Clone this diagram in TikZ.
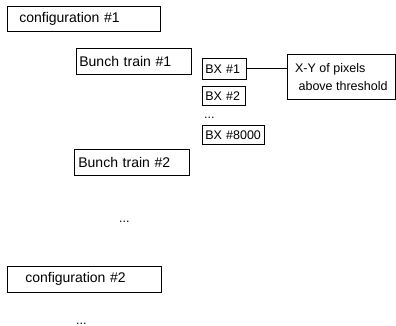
\documentclass[tikz,border=0pt]{standalone}
\usepackage{fontspec}
\setmainfont{Liberation Sans}
\usetikzlibrary{positioning}
\tikzset{
  box/.style={draw, line width=0.7pt, anchor=north west, align=left, inner ysep=0pt},
  big/.style={font=\fontsize{14}{16}\selectfont},
  small/.style={font=\fontsize{12.5}{18}\selectfont},
  dots/.style={anchor=base west, inner sep=0pt, font=\fontsize{12.5}{14}\selectfont}
}
\begin{document}
\begin{tikzpicture}[x=1pt, y=-1pt]
            \useasboundingbox (0,0) rectangle (396,326);
            % configurations and bunch trains
            \node[box, big, inner xsep=12pt, text width=129pt, minimum height=25pt] (cfg1) at (7,6) {configuration \#1};
            \node[box, big, inner xsep=3pt, text width=109pt, minimum height=26pt] (train1) at (76,48) {Bunch train \#1};
            \node[box, big, inner xsep=4pt, text width=107pt, minimum height=26pt] (train2) at (74,149) {Bunch train \#2};
            \node[box, big, inner xsep=18pt, text width=118pt, minimum height=26pt] (cfg2) at (7,266) {configuration \#2};
            % bunch crossings
            \node[box, small, inner xsep=3pt, text width=38pt, minimum height=21pt] (bx1) at (202,58) {BX \#1};
            \node[box, small, inner xsep=3pt, text width=37pt, minimum height=19pt] (bx2) at (202,86) {BX \#2};
            \node[box, small, inner xsep=3pt, text width=56pt, minimum height=19pt] (bx8000) at (202,125) {BX \#8000};
            \node[box, small, inner xsep=7pt, minimum width=108pt, minimum height=45pt] (pixels) at (287,54) {X-Y of pixels\\~above threshold};
            \draw[line width=0.7pt] (bx1.east) -- (bx1.east -| pixels.west);
            % ellipses
            \node[dots] (bxdots) at (204,118) {...};
            \node[dots] (traindots) at (119,222) {...};
            \node[dots] (cfgdots) at (76,324.5) {...};
            \end{tikzpicture}
\end{document}
